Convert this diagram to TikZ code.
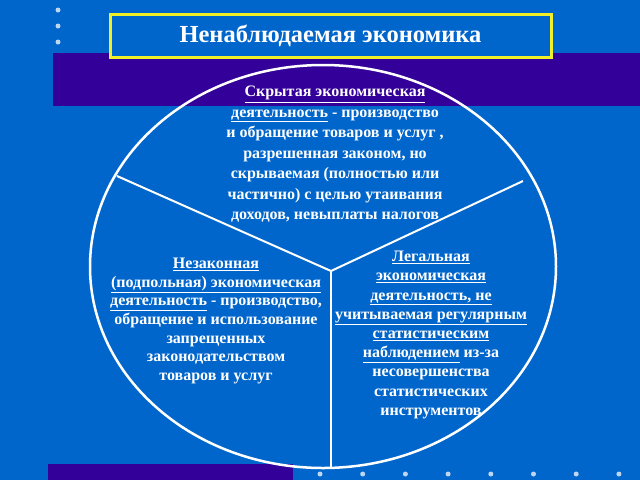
\documentclass[tikz,border=0pt]{standalone}
\usepackage{fontspec}
\setmainfont{Liberation Serif}
\definecolor{bgblue}{RGB}{0,102,204}
\definecolor{bandc}{RGB}{51,0,153}
\definecolor{dotc}{RGB}{190,215,240}
\definecolor{frameyel}{RGB}{240,240,40}
\begin{document}
\begin{tikzpicture}[x=1pt,y=-1pt,
  txt/.style={text=white,align=center,inner sep=0pt},
  dot/.style={circle,fill=dotc,inner sep=0pt,minimum size=5pt},
  wline/.style={draw=white,line width=2pt},
  titleframe/.style={draw=frameyel,line width=3pt}]
\useasboundingbox (0,0) rectangle (640,480);
\fill[bgblue] (0,0) rectangle (640,480);
\fill[bandc] (53,53) rectangle (640,106);
\fill[bandc] (48,464) rectangle (293,480);
\foreach \y [count=\i] in {10,26,42} \node[dot] (dl\i) at (58,\y) {};
\foreach \i in {0,...,7} \node[dot] (db\i) at (320+42.7*\i,474) {};
\draw[titleframe,fill=bgblue] (110,14) rectangle (551,57);
\node[txt,font=\fontsize{24.5}{28}\selectfont\bfseries] (title) at (330.5,35.5) {Ненаблюдаемая экономика};
\draw[white,line width=2.5pt] (323,266.5) ellipse [x radius=233pt, y radius=201.5pt];
\coordinate (J) at (331,271);
\coordinate (L) at (117,176);
\coordinate (R) at (523,181);
\coordinate (B) at (331,468);
\draw[wline] (L) -- (J) -- (R);
\draw[wline] (J) -- (B);
\node[txt,font=\fontsize{16}{20.5}\selectfont\bfseries] (hidden) at (335,154.5)
 {\underline{Скрытая экономическая}\\
  \underline{деятельность} - производство\\
  и обращение товаров и услуг ,\\
  разрешенная законом, но\\
  скрываемая (полностью или\\
  частично) с целью утаивания\\
  доходов, невыплаты налогов};
\node[txt,font=\fontsize{16}{18.6}\selectfont\bfseries] (illegal) at (216,321)
 {\underline{Незаконная}\\
  \underline{(подпольная) экономическая}\\
  \underline{деятельность} - производство,\\
  обращение и использование\\
  запрещенных\\
  законодательством\\
  товаров и услуг};
\node[txt,font=\fontsize{16}{19.2}\selectfont\bfseries] (legal) at (431,335)
 {\underline{Легальная}\\
  \underline{экономическая}\\
  \underline{деятельность, не}\\
  \underline{учитываемая регулярным}\\
  \underline{статистическим}\\
  \underline{наблюдением} из-за\\
  несовершенства\\
  статистических\\
  инструментов};
\end{tikzpicture}
\end{document}
